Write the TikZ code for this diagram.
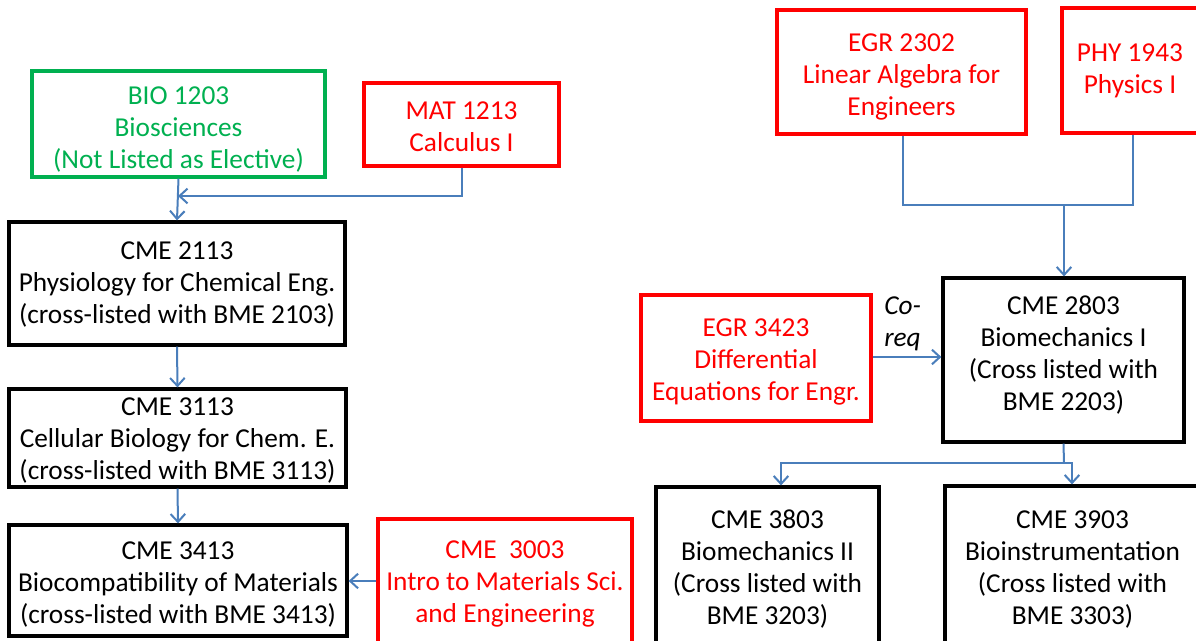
\documentclass[tikz,border=0pt]{standalone}
\usepackage{fontspec}
\setmainfont{Carlito}
\usetikzlibrary{arrows.meta}
\definecolor{myred}{RGB}{255,0,0}
\definecolor{mygreen}{RGB}{0,176,80}
\definecolor{myblue}{RGB}{74,126,187}
\tikzset{
  base/.style={draw, line width=2.4pt, inner sep=0pt},
  sz/.style 2 args={minimum width=#1*0.75pt, minimum height=#2*0.75pt},
  txt/.style={align=center, inner sep=0pt, font=\fontsize{20.5}{24}\selectfont, text=#1},
  blackbox/.style={base, draw=black},
  redbox/.style={base, draw=myred},
  greenbox/.style={base, draw=mygreen},
  conn/.style={draw=myblue, line width=1.5pt},
  arr/.style={conn, -{Straight Barb[length=6pt,width=11pt,line width=1.5pt]}},
}
\begin{document}
\begin{tikzpicture}[x=0.75pt,y=-0.75pt]
\useasboundingbox (0,0) rectangle (1196,641);
\clip (0,0) rectangle (1196,641);
% left column
\node[greenbox, sz={293}{106}, label={[txt=mygreen, yshift=-4.5pt]center:BIO 1203\\Biosciences\\(Not Listed as Elective)}] (bio) at (178.5,124) {};
\node[redbox, sz={195}{83}, label={[txt=myred, yshift=-1.5pt]center:MAT 1213\\Calculus I}] (mat) at (461.5,124.5) {};
\node[blackbox, sz={336}{123}, label={[txt=black, yshift=-0.5pt]center:CME 2113\\Physiology for Chemical Eng.\\(cross-listed with BME 2103)}] (c2113) at (177,283.5) {};
\node[blackbox, sz={337}{98}, label={[txt=black, yshift=-2.25pt]center:CME 3113\\Cellular Biology for Chem. E.\\(cross-listed with BME 3113)}] (c3113) at (177.5,438) {};
\node[blackbox, sz={338}{111}, label={[txt=black, yshift=-3pt]center:CME 3413\\Biocompatibility of Materials\\(cross-listed with BME 3413)}] (c3413) at (178,580.5) {};
\node[redbox, sz={254}{126}, label={[txt=myred, yshift=-1.5pt]center:CME\ \ 3003\\Intro to Materials Sci.\\and Engineering}] (c3003) at (505,582) {};
% right column
\node[redbox, sz={249}{124}, label={[txt=myred, yshift=-3.75pt]center:EGR 2302\\Linear Algebra for\\Engineers}] (egr2302) at (901.5,72) {};
\node[redbox, sz={136}{125}, label={[txt=myred]center:PHY 1943\\Physics I}] (phy) at (1130,70.5) {};
\node[redbox, sz={230}{126}, label={[txt=myred, yshift=-3pt]center:EGR 3423\\Differential\\Equations for Engr.}] (egr3423) at (756,358) {};
\node[blackbox, sz={241}{164}, label={[txt=black, yshift=3.4pt]center:CME 2803\\Biomechanics I\\(Cross listed with\\BME 2203)}] (c2803) at (1063.5,360) {};
\node[blackbox, sz={223}{158}, label={[txt=black, yshift=-2.25pt]center:CME 3803\\Biomechanics II\\(Cross listed with\\BME 3203)}] (c3803) at (767.5,566) {};
\node[blackbox, sz={255}{159}, label={[txt=black, yshift=-3pt]center:CME 3903\\Bioinstrumentation\\(Cross listed with\\BME 3303)}] (c3903) at (1072.5,565.5) {};
\node[font=\fontsize{20.5}{24}\selectfont\itshape, align=left, anchor=north west, inner sep=0pt] (coreq) at (884,296) {Co-\\req};
% connectors
\coordinate (j1) at (178,196);
\draw[arr] (bio.south) -- (c2113.north);
\draw[arr] (mat.south) |- (j1);
\draw[arr] (c2113.south) -- (c3113.north);
\draw[arr] (c3113.south) -- (c3413.north);
\draw[arr] (c3003.west |- 0,581) -- (c3413.east |- 0,581);
\coordinate (j2) at (1064,205);
\draw[conn] (egr2302.south -| 903,0) |- (j2) -| (phy.south -| 1133,0);
\draw[arr] (j2) -- (j2 |- c2803.north);
\draw[arr] (egr3423.east |- 0,357) -- (c2803.west |- 0,357);
\coordinate (j3) at (1064,463);
\coordinate (j4) at (781,463);
\coordinate (j5) at (1072,463);
\draw[conn] (c2803.south) -- (j3);
\draw[arr] (j3) -- (j4) -- (j4 |- c3803.north);
\draw[arr] (j3) -- (j5) -- (j5 |- c3903.north);
\end{tikzpicture}
\end{document}
